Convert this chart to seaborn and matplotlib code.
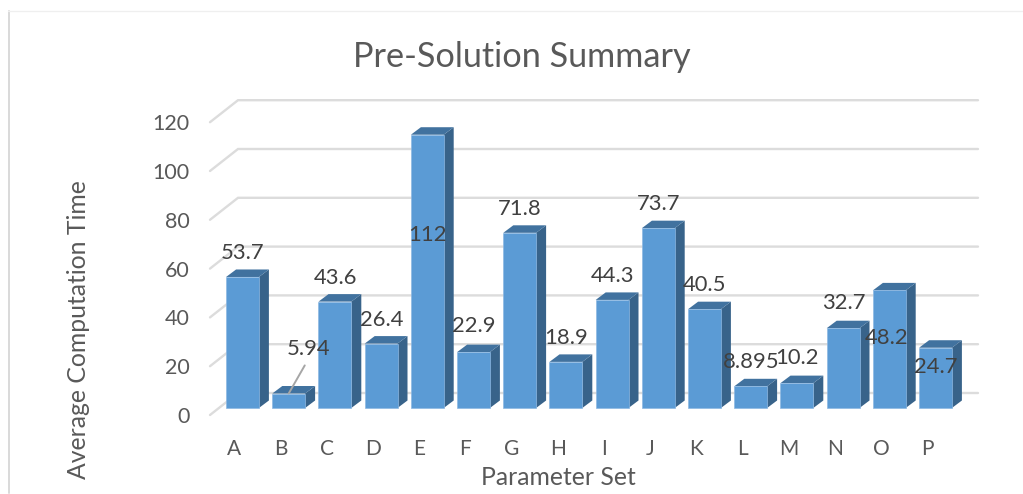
import numpy as np
import pandas as pd
import matplotlib
matplotlib.use("Agg")
import matplotlib.pyplot as plt
from matplotlib.patches import Polygon
import seaborn as sns

# Chart values
parameter_sets = list("ABCDEFGHIJKLMNOP")
avg_times = [53.7, 5.94, 43.6, 26.4, 112, 22.9, 71.8, 18.9, 44.3, 73.7, 40.5, 8.895, 10.2, 32.7, 48.2, 24.7]
value_labels = ["53.7", "5.94", "43.6", "26.4", "112", "22.9", "71.8", "18.9", "44.3", "73.7", "40.5", "8.895", "10.2", "32.7", "48.2", "24.7"]
y_ticks = [0, 20, 40, 60, 80, 100, 120]

# Pixel layout of the plot box on a 1023x494 canvas
W, H = 1023, 494
BOX_L, BOX_R, BOX_T, BOX_B = 210, 978, 100, 415
X0_PX, X_STEP_PX = 242.5, 46.2   # centre of first bar, spacing between bars
Y0_PX, Y_UNIT_PX = 408.0, 2.44   # bar base, pixels per unit

FRONT = "#5B9BD5"
SIDE = "#38638A"
TOP = "#41729F"
GRID = "#DCDCDC"
TICK_TEXT = "#595959"
LABEL_TEXT = "#404040"

sns.set_theme(style="white")
plt.rcParams["font.family"] = ["Lato", "DejaVu Sans"]

df = pd.DataFrame({"set": parameter_sets, "time": avg_times})

fig = plt.figure(figsize=(W / 100, H / 100), dpi=100, facecolor="white")
ax = fig.add_axes([BOX_L / W, 1 - BOX_B / H, (BOX_R - BOX_L) / W, (BOX_B - BOX_T) / H])

sns.barplot(data=df, x="set", y="time", color=FRONT, saturation=1, width=0.71,
            edgecolor="#8DB8E2", linewidth=0.5, ax=ax, zorder=4)

ax.set_xlim((BOX_L - X0_PX) / X_STEP_PX, (BOX_R - X0_PX) / X_STEP_PX)
ax.set_ylim((Y0_PX - BOX_B) / Y_UNIT_PX, (Y0_PX - BOX_T) / Y_UNIT_PX)

# Depth of the extruded bars and of the back wall, in data units
bar_dx, bar_dy = 10 / X_STEP_PX, 7.5 / Y_UNIT_PX
wall_dx, wall_dy = 28 / X_STEP_PX, 22 / Y_UNIT_PX
front_shift = -7 / Y_UNIT_PX   # front edge of the floor sits below the bar base
half = 0.71 / 2

# Gridlines: diagonal on the side wall, then straight along the back wall
x_left = ax.get_xlim()[0]
x_right = ax.get_xlim()[1]
for v in y_ticks:
    y_front = v + front_shift
    y_back = y_front + wall_dy
    ax.plot([x_left, x_left + wall_dx, x_right], [y_front, y_back, y_back],
            color=GRID, lw=1.7, solid_joinstyle="miter", zorder=1, clip_on=False)

# Side and top faces of every bar
for i, v in enumerate(avg_times):
    l, r = i - half, i + half
    ax.add_patch(Polygon([(r, 0), (r + bar_dx, bar_dy), (r + bar_dx, v + bar_dy), (r, v)],
                         closed=True, facecolor=SIDE, edgecolor="none", zorder=3))
    ax.add_patch(Polygon([(l, v), (l + bar_dx, v + bar_dy), (r + bar_dx, v + bar_dy), (r, v)],
                         closed=True, facecolor=TOP, edgecolor="none", zorder=3))

# Value labels: offset in pixels from the top-centre of the front face
label_dx = {1: 20, 14: -3}
label_dy = {1: 45, 4: -100, 5: 26, 12: 25, 13: 25, 14: -48, 15: -19}
for i, (v, text) in enumerate(zip(avg_times, value_labels)):
    dx = label_dx.get(i, 0.5)
    dy = label_dy.get(i, 24)
    arrow = None
    if i == 1:
        arrow = dict(arrowstyle="-", color="#A6A6A6", lw=1.4, shrinkA=3, shrinkB=0, relpos=(0.5, 0))
    ax.annotate(text, xy=(i, v), xytext=(dx * 0.72, dy * 0.72), textcoords="offset points",
                ha="center", va="center", fontsize=15.8, color=LABEL_TEXT, zorder=6,
                annotation_clip=False, arrowprops=arrow)

# Tick labels sit at the front edge of the floor and left of each bar centre
ax.set_yticks(np.array(y_ticks) + front_shift, labels=[str(t) for t in y_ticks])
ax.set_xticks(np.arange(len(parameter_sets)) - 0.18, labels=parameter_sets)
ax.tick_params(axis="y", length=0, pad=14.5, labelsize=15.5, labelcolor=TICK_TEXT)
ax.tick_params(axis="x", length=0, pad=17, labelsize=15, labelcolor=TICK_TEXT)
for spine in ax.spines.values():
    spine.set_visible(False)
ax.patch.set_alpha(0)
ax.set_xlabel("")
ax.set_ylabel("")

fig.text(522 / W, 1 - 57 / H, "Pre-Solution Summary", ha="center", va="center",
         fontsize=24.7, color=TICK_TEXT)
fig.text(558 / W, 1 - 477 / H, "Parameter Set", ha="center", va="center",
         fontsize=17.8, color=TICK_TEXT)
fig.text(79 / W, 1 - 330 / H, "Average Computation Time", ha="center", va="center",
         rotation=90, fontsize=17.8, color=TICK_TEXT)

# Chart frame: left and top edges
fig.add_artist(plt.Line2D([8.5 / W, 8.5 / W], [1 / H, 1 - 11 / H], color="#D9D9D9", lw=1.4))
fig.add_artist(plt.Line2D([8 / W, 1023 / W], [1 - 11.5 / H, 1 - 11.5 / H], color="#EFEFEF", lw=0.9))

fig.savefig("out.png", dpi=100, facecolor="white")
